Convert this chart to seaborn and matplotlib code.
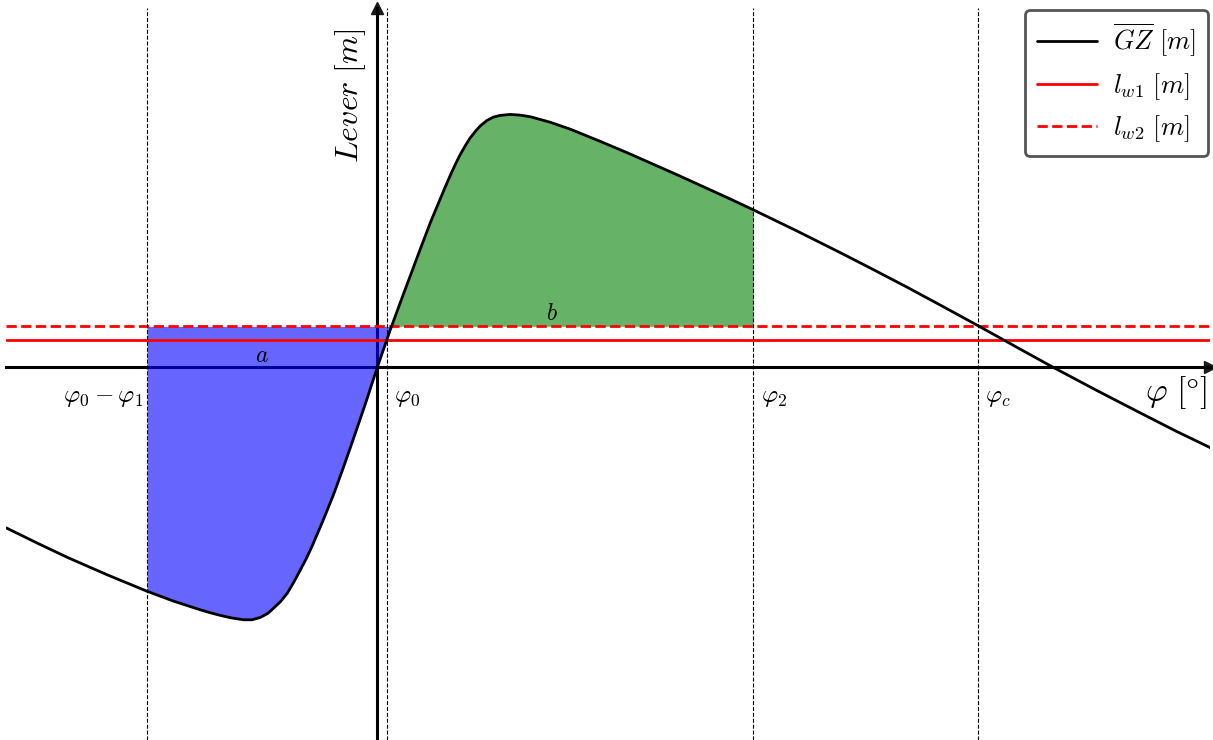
import numpy as np
import pandas as pd
import matplotlib
matplotlib.use("Agg")
import matplotlib.pyplot as plt
import seaborn as sns

# Righting lever curve (heel angle in degrees, lever in metres)
phi = [-40.0, -36.6, -33.4, -29.1, -24.8, -22.0, -19.1, -18.0, -16.9, -15.8,
       -14.4, -13.5, -12.6, -11.8, -11.2, -10.4, -9.7, -9.0, -8.3, -7.6,
       -7.0, -5.9, -4.7, -3.7, -2.6, -1.3, 0.0, 1.4, 2.8, 4.6, 5.7, 6.8,
       7.3, 7.9, 8.4, 8.9, 9.5, 10.0, 10.6, 11.1, 11.8, 12.5, 13.2, 14.3,
       15.4, 16.5, 18.6, 20.8, 24.0, 27.0, 29.7, 32.4, 35.1, 37.8, 40.5,
       45.2, 49.9, 53.5, 57.1, 61.0, 64.7, 68.8, 72.8, 77.5, 82.2, 86.1,
       90.0]
gz = [-0.478, -0.524, -0.566, -0.618, -0.667, -0.696, -0.722, -0.731,
      -0.739, -0.746, -0.752, -0.752, -0.745, -0.733, -0.718, -0.697,
      -0.673, -0.640, -0.604, -0.567, -0.531, -0.460, -0.378, -0.302,
      -0.215, -0.110, 0.0, 0.112, 0.217, 0.350, 0.430, 0.503, 0.536,
      0.574, 0.604, 0.632, 0.661, 0.683, 0.704, 0.719, 0.735, 0.745,
      0.750, 0.753, 0.751, 0.746, 0.730, 0.709, 0.673, 0.638, 0.605,
      0.572, 0.538, 0.504, 0.469, 0.406, 0.341, 0.290, 0.238, 0.180,
      0.124, 0.061, 0.000, -0.069, -0.136, -0.191, -0.243]

# Wind heeling levers
lw1 = 0.080
lw2 = 0.122

# Characteristic angles
phi_back = -24.8   # phi0 - phi1
phi_0 = 1.05
phi_2 = 40.5
phi_c = 64.7

angle_names = [r"$\varphi_0-\varphi_1$", r"$\varphi_0$", r"$\varphi_2$", r"$\varphi_c$"]
angle_values = [phi_back, phi_0, phi_2, phi_c]

sns.set_theme(style="white")
plt.rcParams["mathtext.fontset"] = "cm"
plt.rcParams["font.family"] = ["DejaVu Sans"]
plt.rcParams["text.color"] = "black"

df = pd.DataFrame({"phi": phi, "gz": gz})

fig = plt.figure(figsize=(12.13, 7.40), dpi=100)
ax = fig.add_axes([6 / 1213, 0.0, 1204 / 1213, 732 / 740])

# Areas between the curve and the gust lever
x = np.array(phi)
y = np.array(gz)
sel = (x >= phi_back) & (x <= phi_2)
xs, ys = x[sel], y[sel]
ax.fill_between(xs, ys, lw2, where=ys <= lw2, interpolate=True,
                color="blue", alpha=0.6, lw=0, zorder=3)
ax.fill_between(xs, ys, lw2, where=ys >= lw2, interpolate=True,
                color="green", alpha=0.6, lw=0, zorder=3)

sns.lineplot(data=df, x="phi", y="gz", color="black", lw=2, sort=False,
             label=r"$\overline{GZ}\ [m]$", ax=ax, zorder=5)
ax.axhline(lw1, color="red", lw=2, zorder=4, label=r"$l_{w1}\ [m]$")
ax.axhline(lw2, color="red", lw=2, ls="--", zorder=4, label=r"$l_{w2}\ [m]$")

for v in angle_values:
    ax.axvline(v, color="black", lw=0.8, ls="--", zorder=4)

ax.set_xlim(-40, 89.7)
ax.set_ylim(-1.11, 1.07)

# Axes through the origin with arrow heads
for side in ["top", "right"]:
    ax.spines[side].set_visible(False)
ax.spines["bottom"].set_position(("data", 0))
ax.spines["left"].set_position(("data", 0))
for side in ["bottom", "left"]:
    ax.spines[side].set_linewidth(2.2)
    ax.spines[side].set_color("black")
    ax.spines[side].set_zorder(2.5)
ax.plot(1, 0, ">k", ms=9, transform=ax.get_yaxis_transform(), clip_on=False)
ax.plot(0, 1, "^k", ms=9, transform=ax.get_xaxis_transform(), clip_on=False)
ax.set_xticks([])
ax.set_yticks([])
ax.set_xlabel("")
ax.set_ylabel("")

# Angle labels
label_y = -0.088
ax.text(phi_back - 0.4, label_y, angle_names[0], ha="right", va="center", fontsize=18)
for name, v in zip(angle_names[1:], angle_values[1:]):
    ax.text(v + 0.8, label_y, name, ha="left", va="center", fontsize=18)

ax.text(89.3, -0.076, r"$\varphi\ [\degree]$", ha="right", va="center", fontsize=24)
ax.text(-2.9, 0.81, r"$Lever\ [m]$", ha="center", va="center", rotation=90, fontsize=23)

ax.text(-12.4, 0.037, r"$a$", ha="center", va="center", fontsize=17, zorder=6)
ax.text(18.8, 0.162, r"$b$", ha="center", va="center", fontsize=17, zorder=6)

leg = ax.legend(loc="upper right", fontsize=19, fancybox=True, framealpha=1,
                edgecolor="#555555", handlelength=2.3, handletextpad=0.6,
                borderpad=0.45, labelspacing=0.45, borderaxespad=0,
                bbox_to_anchor=(1208 / 1213, 1 - 10 / 740),
                bbox_transform=fig.transFigure)
leg.get_frame().set_linewidth(2)
leg.set_zorder(10)

fig.savefig("out.png", dpi=100)
